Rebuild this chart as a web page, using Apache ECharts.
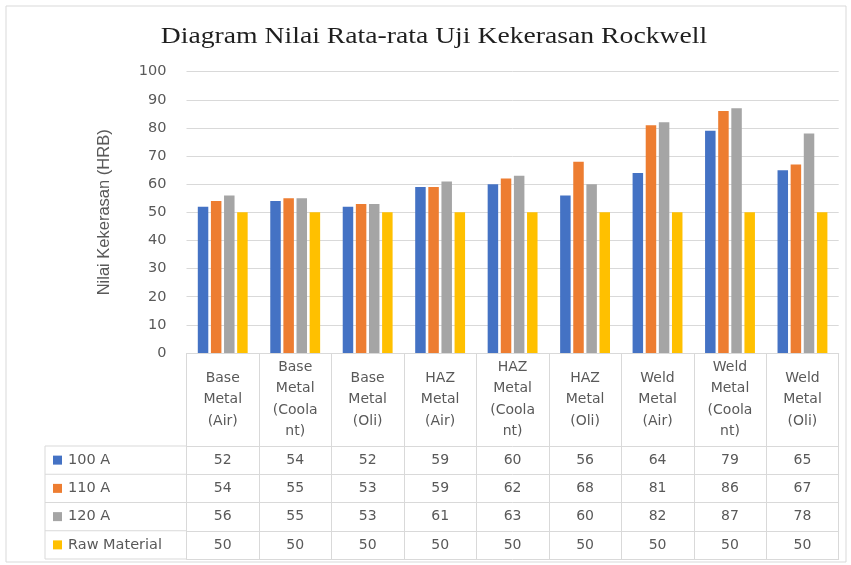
<!DOCTYPE html>
<html>
<head>
<meta charset="utf-8">
<script src="https://cdn.jsdelivr.net/npm/echarts@6/dist/echarts.min.js"></script>
<style>
html,body{margin:0;padding:0;background:#fff;}
#c{width:851px;height:565px;}
</style>
</head>
<body>
<div id="c"></div>
<script>
const titleText = 'Diagram Nilai Rata-rata Uji Kekerasan Rockwell';
const yAxisName = 'Nilai Kekerasan (HRB)';
const categories = ['Base Metal (Air)', 'Base Metal (Coolant)', 'Base Metal (Oli)', 'HAZ Metal (Air)', 'HAZ Metal (Coolant)', 'HAZ Metal (Oli)', 'Weld Metal (Air)', 'Weld Metal (Coolant)', 'Weld Metal (Oli)'];
const seriesNames = ['100 A', '110 A', '120 A', 'Raw Material'];
const s100 = [52, 54, 52, 59, 60, 56, 64, 79, 65];
const s110 = [54, 55, 53, 59, 62, 68, 81, 86, 67];
const s120 = [56, 55, 53, 61, 63, 60, 82, 87, 78];
const sRaw = [50, 50, 50, 50, 50, 50, 50, 50, 50];
const yMin = 0, yMax = 100, yInterval = 10;

const allSeries = [s100, s110, s120, sRaw];
const colors = ['#4472C4', '#ED7D31', '#A5A5A5', '#FFC000'];
const W = 851, H = 565;
const gridLeft = 186.5, gridRight = 12.3, gridTop = 71.7, gridBottom = 212;
const axisY = H - gridBottom;
const headerH = 93, rowH = 28.25;
const tableLeft = 45;
const lineColor = '#D9D9D9';
const txtColor = '#595959';
const sans = 'DejaVu Sans';

function wrapCat(v) {
  return v.split(' ').map(w => w.length > 6 ? w.slice(0, 6) + '\n' + w.slice(6) : w).join('\n');
}

const chart = echarts.init(document.getElementById('c'), null, {renderer: 'canvas'});

const xAxes = [{
  type: 'category', data: categories, gridIndex: 0, position: 'bottom',
  boundaryGap: true,
  axisLine: {show: true, lineStyle: {color: lineColor, width: 1}},
  axisTick: {show: true, length: headerH + rowH * 4, lineStyle: {color: lineColor, width: 1}},
  axisLabel: {interval: 0, hideOverlap: false, formatter: wrapCat, margin: headerH / 2, verticalAlign: 'middle',
    lineHeight: 21.5, fontFamily: sans, fontSize: 14, color: txtColor}
}];
for (let r = 0; r <= 4; r++) {
  const vals = allSeries[r];
  xAxes.push({
    type: 'category', data: categories, gridIndex: 0, position: 'bottom',
    offset: headerH + r * rowH,
    axisLine: {show: true, lineStyle: {color: lineColor, width: 1}},
    axisTick: {show: false},
    axisLabel: {show: r < 4, interval: 0, hideOverlap: false, margin: rowH / 2, verticalAlign: 'middle',
      formatter: (v, i) => vals ? String(vals[i]) : '',
      fontFamily: sans, fontSize: 14, color: txtColor}
  });
}

const tableBottom = axisY + headerH + rowH * 4;
const leftLines = [];
for (let r = 0; r <= 4; r++) {
  const y = axisY + headerH + r * rowH;
  leftLines.push({type: 'line', shape: {x1: tableLeft, y1: y, x2: gridLeft, y2: y}, style: {stroke: lineColor, lineWidth: 1}, silent: true});
}
leftLines.push({type: 'line', shape: {x1: tableLeft, y1: axisY + headerH, x2: tableLeft, y2: tableBottom}, style: {stroke: lineColor, lineWidth: 1}, silent: true});

const option = {
  backgroundColor: '#fff',
  animation: false,
  color: colors,
  grid: {left: gridLeft, right: gridRight, top: gridTop, bottom: gridBottom, containLabel: false},
  legend: {
    show: true, orient: 'vertical', left: 53, top: axisY + headerH + rowH / 2 - 9,
    padding: 0,
    itemWidth: 9, itemHeight: 9, itemGap: 10.25, icon: 'rect',
    data: seriesNames,
    textStyle: {fontFamily: sans, fontSize: 14.5, color: txtColor, lineHeight: 18, padding: [0, 0, 0, 1]},
    selectedMode: false
  },
  xAxis: xAxes,
  yAxis: {
    type: 'value', min: yMin, max: yMax, interval: yInterval,
    name: yAxisName, nameLocation: 'middle', nameGap: 74, nameRotate: 90,
    nameTextStyle: {fontFamily: 'Liberation Sans', fontSize: 16.5, color: txtColor},
    axisLine: {show: false}, axisTick: {show: false},
    axisLabel: {margin: 20, fontFamily: sans, fontSize: 14.5, color: txtColor},
    splitLine: {show: true, lineStyle: {color: lineColor, width: 1}}
  },
  series: seriesNames.map((n, i) => ({
    type: 'bar', name: n, data: allSeries[i], xAxisIndex: 0,
    barWidth: 10.5, barGap: '25%',
    itemStyle: {color: colors[i]}
  })),
  graphic: [
    {type: 'rect', shape: {x: 6, y: 6, width: 840, height: 556}, style: {fill: 'none', stroke: lineColor, lineWidth: 1}, silent: true, z: -1},
    {type: 'text', x: 434, y: 37, scaleX: 1.23, style: {text: titleText, font: '22.5px "Liberation Serif"', fill: '#1f1f1f', textAlign: 'center', textVerticalAlign: 'middle'}},
    ...leftLines
  ]
};
chart.setOption(option);
</script>
</body>
</html>
